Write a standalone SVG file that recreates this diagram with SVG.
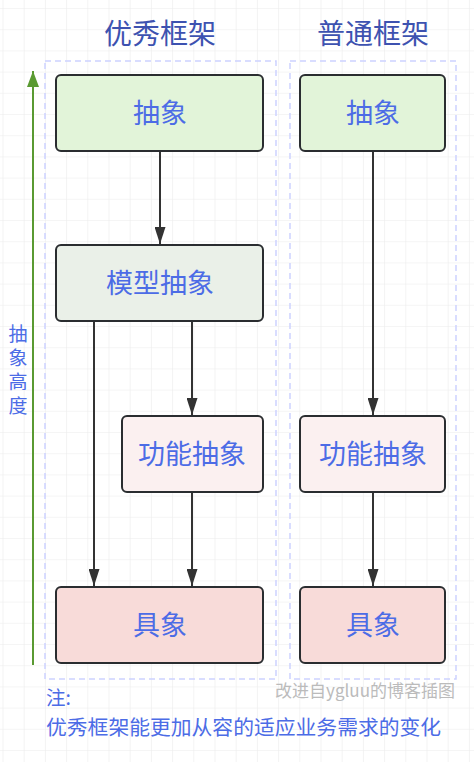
<svg xmlns="http://www.w3.org/2000/svg" width="474" height="762" viewBox="0 0 474 762">
<defs>
<pattern id="grid" x="2.5" y="8" width="21.2" height="21.2" patternUnits="userSpaceOnUse">
<path d="M0 0H21.2M0 0V21.2" fill="none" stroke="#ececec" stroke-width="1.2"/>
</pattern>
<marker id="ah" viewBox="0 0 17 11" refX="17" refY="5.5" markerWidth="17" markerHeight="11" markerUnits="userSpaceOnUse" orient="auto">
<path d="M0 0L17 5.5L0 11z" fill="#333"/>
</marker>
<marker id="gh" viewBox="0 0 16 12" refX="16" refY="6" markerWidth="16" markerHeight="12" markerUnits="userSpaceOnUse" orient="auto">
<path d="M0 0L16 6L0 12z" fill="#5a9a32"/>
</marker>
</defs>
<style>
text{font-family:"Noto Sans CJK SC","Liberation Sans",sans-serif;}
.title{font-size:28px;fill:#3d52b0;text-anchor:middle;}
.lbl{font-size:27px;fill:#4c6ce6;text-anchor:middle;}
.box{stroke:#2a2d30;stroke-width:2;}
.cont{fill:none;stroke:#cdd2ff;stroke-width:1.5;stroke-dasharray:6 4;}
.conn{stroke:#333;stroke-width:2;fill:none;marker-end:url(#ah);}
.note{font-size:20.8px;fill:#4c6ce6;}
</style>
<rect width="474" height="762" fill="#fff"/>
<rect width="474" height="762" fill="url(#grid)"/>
<text class="title" x="160" y="44">优秀框架</text>
<text class="title" x="373" y="44">普通框架</text>
<rect class="cont" x="45" y="61" width="231" height="618"/>
<rect class="cont" x="290" y="61" width="166" height="618"/>
<g id="axis">
<line x1="33" y1="665" x2="33" y2="71" stroke="#5a9a32" stroke-width="2" marker-end="url(#gh)"/>
<text x="18" y="324" font-size="19" fill="#4c6ce6" style="writing-mode:vertical-rl;letter-spacing:5px">抽象高度</text>
</g>
<g id="connectors">
<line class="conn" x1="160" y1="151" x2="160" y2="244"/>
<line class="conn" x1="192" y1="321" x2="192" y2="415"/>
<line class="conn" x1="94" y1="321" x2="94" y2="586"/>
<line class="conn" x1="192" y1="492" x2="192" y2="586"/>
<line class="conn" x1="373" y1="151" x2="373" y2="415"/>
<line class="conn" x1="373" y1="492" x2="373" y2="586"/>
</g>
<g id="l-abstract">
<rect class="box" x="56" y="75" width="207" height="76" rx="5" fill="#e2f4d9"/>
<text class="lbl" x="160" y="123">抽象</text>
</g>
<g id="l-model">
<rect class="box" x="56" y="245" width="207" height="76" rx="5" fill="#eaf0e8"/>
<text class="lbl" x="160" y="293">模型抽象</text>
</g>
<g id="l-func">
<rect class="box" x="122" y="416" width="141" height="76" rx="5" fill="#fbf0f0"/>
<text class="lbl" x="192" y="464">功能抽象</text>
</g>
<g id="l-concrete">
<rect class="box" x="56" y="587" width="207" height="76" rx="5" fill="#f8dbd9"/>
<text class="lbl" x="160" y="635">具象</text>
</g>
<g id="r-abstract">
<rect class="box" x="300" y="75" width="145" height="76" rx="5" fill="#e2f4d9"/>
<text class="lbl" x="373" y="123">抽象</text>
</g>
<g id="r-func">
<rect class="box" x="300" y="416" width="145" height="76" rx="5" fill="#fbf0f0"/>
<text class="lbl" x="373" y="464">功能抽象</text>
</g>
<g id="r-concrete">
<rect class="box" x="300" y="587" width="145" height="76" rx="5" fill="#f8dbd9"/>
<text class="lbl" x="373" y="635">具象</text>
</g>
<text x="455" y="697" font-size="17" fill="#bbbbbb" text-anchor="end">改进自ygluu的博客插图</text>
<text x="46" y="705" font-size="19.5" fill="#4c6ce6">注:</text>
<text class="note" x="46" y="735">优秀框架能更加从容的适应业务需求的变化</text>
</svg>
